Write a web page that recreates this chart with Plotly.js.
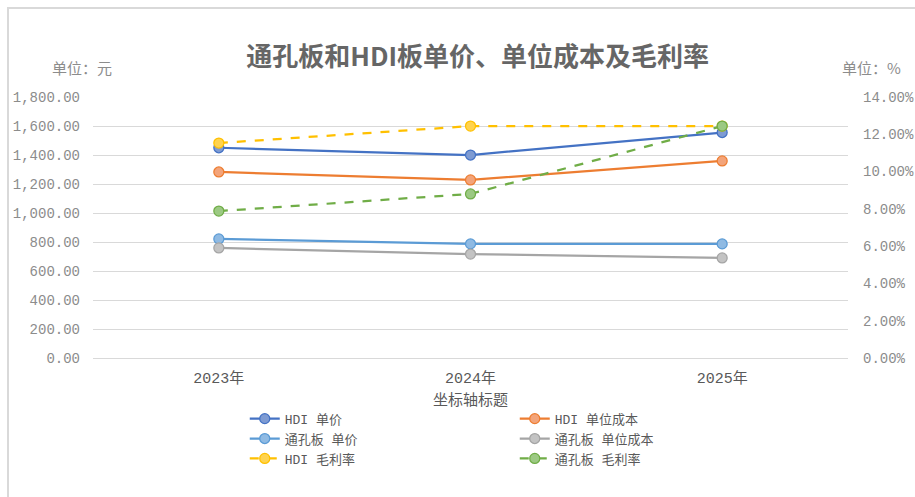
<!DOCTYPE html>
<html>
<head>
<meta charset="utf-8">
<script src="https://cdn.plot.ly/plotly-3.0.1.min.js"></script>
<style>
html,body{margin:0;padding:0;background:#fff;}
#wrap{position:relative;width:915px;height:497px;}
#chart{position:absolute;left:0;top:0;width:915px;height:497px;}
#frame{position:absolute;left:7px;top:7px;right:0;bottom:0;border-left:2px solid #d9d9d9;border-top:2px solid #d9d9d9;pointer-events:none;}
</style>
</head>
<body>
<div id="wrap"><div id="chart"></div><div id="frame"></div></div>
<script>
const years = ['2023年', '2024年', '2025年'];
const hdiPrice = [1450, 1400, 1555];
const hdiCost = [1283, 1228, 1359];
const thPrice = [821, 787, 787];
const thCost = [759, 717, 690];
const hdiMargin = [0.1153, 0.1244, 0.1244];
const thMargin = [0.0788, 0.0880, 0.1244];

const seriesNames = ['HDI 单价', 'HDI 单位成本', '通孔板 单价', '通孔板 单位成本', 'HDI 毛利率', '通孔板 毛利率'];
const leftTicks = [0, 200, 400, 600, 800, 1000, 1200, 1400, 1600, 1800];
const rightTicks = [0, 0.02, 0.04, 0.06, 0.08, 0.10, 0.12, 0.14];

const CJK = '"Noto Sans CJK SC", sans-serif';
const MIX = '"Liberation Mono", "Noto Sans CJK SC", monospace';

function tr(name, y, line, fill, dash, axis) {
  return {
    type: 'scatter', mode: 'lines+markers', name: name, x: years, y: y,
    yaxis: axis,
    line: {color: line, width: 2.25, dash: dash},
    marker: {symbol: 'circle', size: 10, color: fill, line: {color: line, width: 1.25}},
    hoverinfo: 'skip'
  };
}

const data = [
  tr(seriesNames[0], hdiPrice, '#4472C4', '#7E9BD3', 'solid', 'y'),
  tr(seriesNames[1], hdiCost, '#ED7D31', '#F3A47A', 'solid', 'y'),
  tr(seriesNames[2], thPrice, '#5B9BD5', '#8FBAE3', 'solid', 'y'),
  tr(seriesNames[3], thCost, '#A5A5A5', '#C3C3C3', 'solid', 'y'),
  tr(seriesNames[4], hdiMargin, '#FFC000', '#FFD34F', 'dash', 'y2'),
  tr(seriesNames[5], thMargin, '#70AD47', '#9CC983', 'dash', 'y2')
];

const layout = {
  width: 915, height: 497,
  margin: {l: 93, r: 67, t: 97, b: 139},
  paper_bgcolor: '#ffffff', plot_bgcolor: '#ffffff',
  font: {family: MIX, color: '#595959'},
  showlegend: true,
  title: {
    text: '通孔板和HDI板单价、单位成本及毛利率',
    font: {family: CJK, size: 26, color: '#666666', weight: 'bold'},
    x: 0.522, xanchor: 'center', xref: 'container',
    y: 1 - 57/497, yanchor: 'middle', yref: 'container'
  },
  xaxis: {
    type: 'category', range: [-0.5, 2.5],
    showgrid: false, zeroline: false,
    showline: true, linecolor: '#d9d9d9', linewidth: 1,
    ticks: '', ticklabelstandoff: 6,
    tickfont: {family: MIX, size: 15, color: '#595959'},
    title: {text: '坐标轴标题', standoff: 4, font: {family: CJK, size: 15, color: '#595959'}},
    fixedrange: true
  },
  yaxis: {
    range: [0, 1800], tickvals: leftTicks, tickformat: ',.2f',
    showgrid: true, gridcolor: '#d9d9d9', gridwidth: 1, zeroline: false,
    showline: false, ticks: '', ticklabelstandoff: 12,
    tickfont: {family: MIX, size: 14, color: '#8c8c8c'},
    fixedrange: true
  },
  yaxis2: {
    overlaying: 'y', side: 'right',
    range: [0, 0.14], tickvals: rightTicks, tickformat: '.2%',
    showgrid: false, zeroline: false, showline: false,
    ticks: '', ticklabelstandoff: 14,
    tickfont: {family: MIX, size: 14, color: '#8c8c8c'},
    fixedrange: true
  },
  legend: {
    orientation: 'h', x: 0.201, xanchor: 'left', y: -0.175, yanchor: 'top',
    entrywidth: 225, entrywidthmode: 'pixels',
    font: {family: MIX, size: 13, color: '#595959'},
    bgcolor: 'rgba(0,0,0,0)', traceorder: 'normal',
    itemclick: false, itemdoubleclick: false
  },
  annotations: [
    {text: '单位：元', xref: 'paper', yref: 'paper', x: (82 - 93) / 755, y: 1 + 29/261,
     xanchor: 'center', yanchor: 'middle', showarrow: false,
     font: {family: CJK, size: 15, color: '#8c8c8c'}},
    {text: '单位：%', xref: 'paper', yref: 'paper', x: (871 - 93) / 755, y: 1 + 29/261,
     xanchor: 'center', yanchor: 'middle', showarrow: false,
     font: {family: CJK, size: 15, color: '#8c8c8c'}}
  ]
};

Plotly.newPlot('chart', data, layout, {displayModeBar: false, staticPlot: false});
</script>
</body>
</html>
